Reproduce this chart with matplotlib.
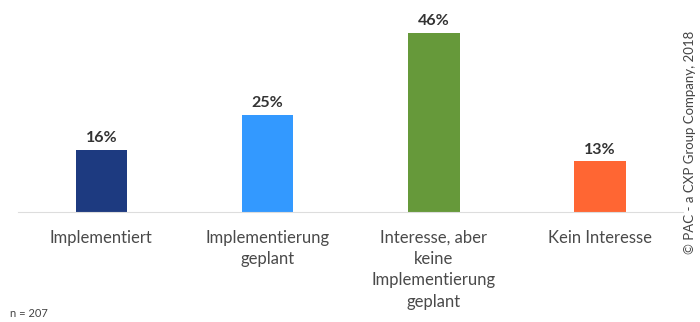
import matplotlib.pyplot as plt

# Data
categories = ['Implementiert', 'Implementierung\ngeplant',
              'Interesse, aber\nkeine\nImplementierung\ngeplant', 'Kein Interesse']
values = [16, 25, 46, 13]
colors = ['#1d3a80', '#3399ff', '#66993a', '#ff6633']

fig = plt.figure(figsize=(7, 3.22), dpi=100)
ax = fig.add_axes([0.026, 0.342, 0.95, 0.604])

bars = ax.bar(range(len(values)), values, width=0.31, color=colors)
ax.set_xlim(-0.5, 3.5)
ax.set_ylim(0, 50)

for i, v in enumerate(values):
    ax.text(i, v + 1.2, f'{v}%', ha='center', va='bottom',
            fontsize=11.5, fontweight='bold', color='#333333', family='Lato')

for s in ['top', 'right', 'left']:
    ax.spines[s].set_visible(False)
ax.spines['bottom'].set_color('#dddddd')
ax.set_yticks([])
ax.set_xticks(range(len(categories)))
ax.set_xticklabels(categories, fontsize=12, color='#4a4a4a', family='Lato',
                   linespacing=1.4)
ax.tick_params(axis='x', length=0, pad=13)

fig.text(0.014, 0.015, 'n = 207', fontsize=8, color='#444444', family='Lato')
fig.text(0.985, 0.559, '© PAC - a CXP Group Company, 2018', rotation=90,
         ha='center', va='center', fontsize=9.5, color='#444444', family='Lato')

fig.savefig('out.png', dpi=100)
